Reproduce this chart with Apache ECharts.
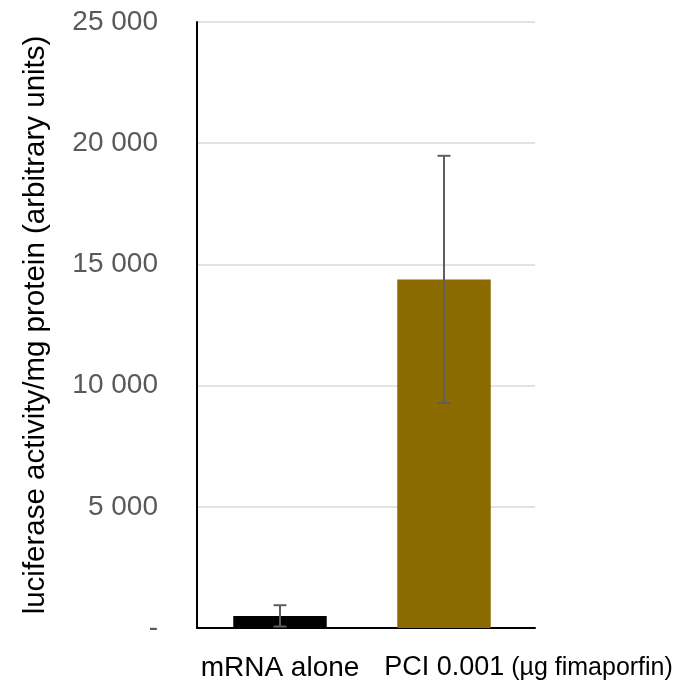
<!DOCTYPE html>
<html><head><meta charset="utf-8">
<script src="https://cdn.jsdelivr.net/npm/echarts@6/dist/echarts.min.js"></script>
<style>html,body{margin:0;padding:0;background:#fff}#c{width:687px;height:684px}</style>
</head><body><div id="c"></div>
<script>
const categories = ['mRNA alone', 'PCI 0.001'];
const unitNote = '(µg fimaporfin)';
const values = [500, 14380];
const errLow = [60, 9280];
const errHigh = [940, 19480];
const yTicks = [0, 5000, 10000, 15000, 20000, 25000];
const barColors = ['#000000', '#8B6A00'];

const chart = echarts.init(document.getElementById('c'), null, {renderer:'canvas'});
const FONT = 'Liberation Sans';
const yMin = yTicks[0], yMax = yTicks[yTicks.length-1], yStep = yTicks[1]-yTicks[0];
chart.setOption({
  animation:false,
  grid:[
    {left:197, right:152, top:22, bottom:56},
    {left:198, right:161, top:22, bottom:56}
  ],
  xAxis:[
    {type:'category', data:categories, gridIndex:0,
     axisLine:{lineStyle:{color:'#000', width:2}},
     axisTick:{show:false}, axisLabel:{show:false}},
    {type:'category', data:categories, gridIndex:1,
     axisLine:{show:false}, axisTick:{show:false},
     axisLabel:{
      margin:26, interval:0,
      formatter:(v,i)=> i===0 ? '{a|'+v+'}' : '{p|'+v+'}{b| '+unitNote+'}',
      rich:{
        a:{fontFamily:FONT, fontSize:28, color:'#000'},
        p:{fontFamily:FONT, fontSize:27, color:'#000', padding:[0,0,0,169]},
        b:{fontFamily:FONT, fontSize:25, color:'#000', padding:[2,0,0,0]}
      }
    }}
  ],
  yAxis:[
    {type:'value', min:yMin, max:yMax, interval:yStep, gridIndex:0,
    name:'luciferase activity/mg protein (arbitrary units)',
    nameLocation:'middle', nameGap:146,
    nameTextStyle:{fontFamily:FONT, fontSize:29.5, color:'#000'},
    axisLine:{show:true, lineStyle:{color:'#000', width:2}},
    axisTick:{show:false},
    splitLine:{lineStyle:{color:'#d9d9d9', width:1.5}},
    axisLabel:{
      margin:39, fontFamily:FONT, fontSize:28, color:'#595959',
      formatter:v=> v===0 ? '-' : (v/1000)+' 000'
    }},
    {type:'value', min:yMin, max:yMax, interval:yStep, gridIndex:1,
     show:false, splitLine:{show:false}}
  ],
  series:[
    {type:'bar', xAxisIndex:1, yAxisIndex:1, barWidth:'57%',
     data: values.map((v,i)=>({value:v, itemStyle:{color:barColors[i]}}))},
    {type:'custom', z:10, xAxisIndex:1, yAxisIndex:1,
     data: categories.map((c,i)=>[i, errLow[i], errHigh[i]]),
     renderItem:(params, api)=>{
       const lo = api.coord([api.value(0), api.value(1)]);
       const hi = api.coord([api.value(0), api.value(2)]);
       const w = 6.5;
       const st = {stroke:'#5f5f5f', lineWidth:2};
       return {type:'group', children:[
         {type:'line', shape:{x1:lo[0],y1:lo[1],x2:hi[0],y2:hi[1]}, style:st},
         {type:'line', shape:{x1:lo[0]-w,y1:lo[1],x2:lo[0]+w,y2:lo[1]}, style:st},
         {type:'line', shape:{x1:hi[0]-w,y1:hi[1],x2:hi[0]+w,y2:hi[1]}, style:st}
       ]};
     }}
  ]
});
</script></body></html>
